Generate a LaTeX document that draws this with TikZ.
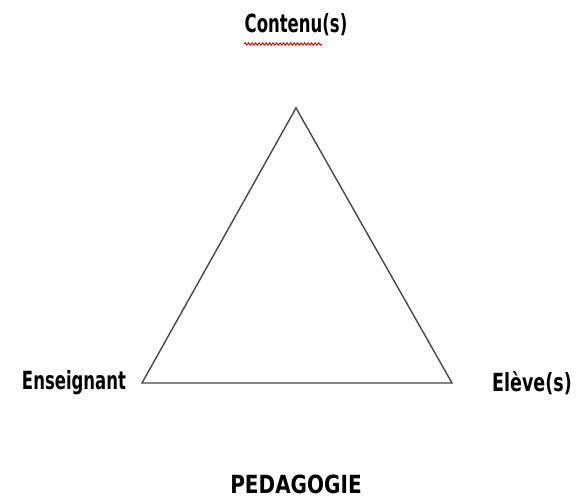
\documentclass[tikz,border=0pt]{standalone}
\usepackage{fontspec}
\setmainfont{DejaVu Sans}
\usetikzlibrary{decorations.pathmorphing}
\tikzset{
  lbl/.style={inner sep=0pt, font=\fontsize{25}{28}\selectfont\bfseries, text=black},
  edge/.style={draw=black!72, line width=1.4pt, line join=miter},
  spell/.style={draw=red!85!black, line width=0.9pt, decorate, decoration={snake, amplitude=1.2pt, segment length=3.5pt}}
}
\newcommand{\narrow}[2][0.66]{\scalebox{#1}[1]{#2}}
\begin{document}
\begin{tikzpicture}[x=1pt,y=1pt]
\useasboundingbox (0,0) rectangle (582,504);
\coordinate (top) at (296,396);
\coordinate (bl) at (142,121);
\coordinate (br) at (452,121);
\draw[edge] (top) -- (bl) -- (br) -- cycle;
\node[lbl] (contenu) at (296,479) {\narrow{Contenu(s)}};
\node[lbl] (ens) at (74,121) {\narrow{Enseignant}};
\node[lbl] (eleve) at (532,121) {\narrow[0.7]{Elève(s)}};
\node[lbl] (peda) at (296,20) {\narrow[0.8]{PEDAGOGIE}};
\coordinate (w1) at (244,460);
\coordinate (w2) at (322,460);
\draw[spell] (w1) -- (w2);
\end{tikzpicture}
\end{document}
